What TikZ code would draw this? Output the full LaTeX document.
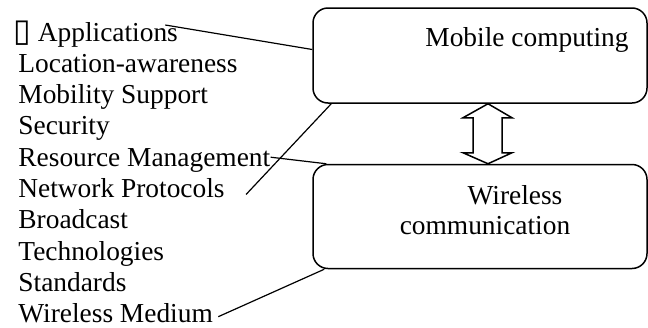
\documentclass[tikz,border=0pt]{standalone}
\usepackage{fontspec}
\setmainfont{Liberation Serif}
\newfontfamily\glyphfont{DejaVu Sans}
\usetikzlibrary{positioning,calc}
\tikzset{
  box/.style  ={draw, rectangle, rounded corners=7.5pt, line width=0.75pt, minimum width=167pt, inner sep=0pt},
  item/.style ={anchor=base west, inner sep=0pt, font=\fontsize{13.7}{15.65}\selectfont},
  lbl/.style  ={inner sep=0pt, align=center, font=\fontsize{13.7}{15}\selectfont},
  link/.style ={line width=0.6pt},
}

\begin{document}
\begin{tikzpicture}[x=0.5pt, y=-0.5pt]
  \useasboundingbox (0,0) rectangle (648,327);

  % the two layers
  \node[box, minimum height=47.5pt] (mc) at (480,55.5) {};
  \node[box, minimum height=52pt, below=30pt of mc] (wc) {};
  \node[lbl, anchor=base] (mctext) at ($(mc.north)+(47,39)$) {Mobile computing};
  \node[lbl] (wctext) at ($(wc.center)+(5,-6)$) {\hspace*{30pt}Wireless\\communication};

  % the topics on the left
  \node[item] (app) at (13,41) {{\glyphfont\fontsize{16}{16}\selectfont ▯} Applications};
  \node[item] (loc) at (18,72.3) {Location-awareness};
  \node[item] (mob) at (18,103.6) {Mobility Support};
  \node[item] (sec) at (18,134.9) {Security};
  \node[item] (res) at (18,166.2) {Resource Management};
  \node[item] (net) at (18,197.5) {Network Protocols};
  \node[item] (bro) at (18,228.8) {Broadcast};
  \node[item] (tec) at (18,260.1) {Technologies};
  \node[item] (std) at (18,291.4) {Standards};
  \node[item] (med) at (18,322.7) {Wireless Medium};

  % double arrow between the layers
  \coordinate (uptip) at ($(mc.south)+(8,0)$);
  \coordinate (dntip) at ($(wc.north)+(8,0)$);
  \draw[line width=0.75pt] (uptip) -- ++(24,14) -- ++(-10,0) -- ($(dntip)+(14,-11)$) -- ++(10,0)
    -- (dntip) -- ++(-25,-11) -- ++(10,0) -- ($(uptip)+(-15,14)$) -- ++(-10,0) -- cycle;

  % braces of lines
  \draw[link] ($(app.base east)+(-13,-16)$) -- ($(mc.west)+(0,-6)$);
  \draw[link] ($(mc.south west)+(19,0)$) -- ($(net.base east)+(21,-3)$);
  \draw[link] ($(res.base east)+(0,-9)$) -- ($(wc.north west)+(14,0)$);
  \draw[link] ($(med.base east)+(5,-6)$) -- ($(wc.south west)+(12,0)$);
\end{tikzpicture}
\end{document}
